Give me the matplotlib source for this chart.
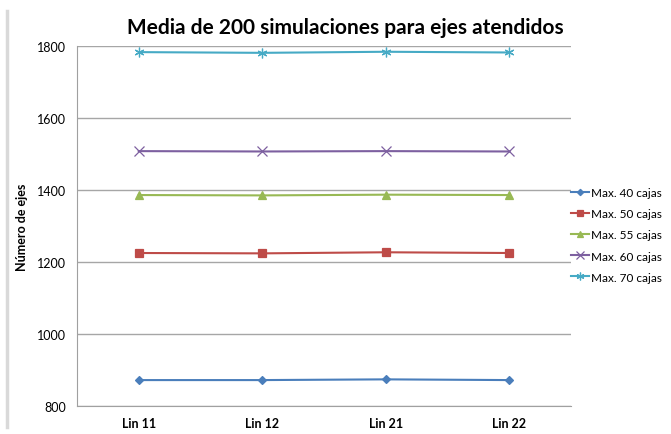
import matplotlib.pyplot as plt
from matplotlib.lines import Line2D

plt.rcParams['font.family'] = ['Lato', 'DejaVu Sans']

# data
categories = ['Lin 11', 'Lin 12', 'Lin 21', 'Lin 22']
max40 = [872, 872, 874, 872]
max50 = [1225, 1224, 1227, 1225]
max55 = [1386, 1385, 1387, 1386]
max60 = [1508, 1507, 1508, 1507]
max70 = [1783, 1781, 1784, 1782]
labels = ['Max. 40 cajas', 'Max. 50 cajas', 'Max. 55 cajas', 'Max. 60 cajas', 'Max. 70 cajas']

series = [max40, max50, max55, max60, max70]
colors = ['#4a7ebb', '#be4b48', '#98b954', '#7d60a0', '#46aac5']
markers = ['D', 's', '^', 'x', (6, 2, 0)]
msizes = [4, 5.5, 6, 7, 7]

fig = plt.figure(figsize=(6.71, 4.35), dpi=100)
ax = fig.add_axes([77 / 671, 1 - 407 / 435, (571 - 77) / 671, (407 - 47) / 435])

x = list(range(len(categories)))
for vals, c, m, ms, lab in zip(series, colors, markers, msizes, labels):
    ax.plot(x, vals, color=c, lw=1.5, marker=m, markersize=ms,
            markeredgewidth=0.9, label=lab)

ax.set_xlim(-0.5, 3.5)
ax.set_ylim(800, 1800)
ax.set_yticks([800, 1000, 1200, 1400, 1600, 1800])
ax.set_xticks(x)
ax.set_xticklabels(categories, fontweight='bold', fontsize=9)
ax.tick_params(axis='y', labelsize=9, length=0, pad=8)
ax.tick_params(axis='x', length=0, pad=8)
ax.grid(axis='y', color='#a6a6a6', lw=1)
ax.set_axisbelow(True)
for s in ['top', 'right']:
    ax.spines[s].set_visible(False)
ax.spines['left'].set_color('#a0a0a0')
ax.spines['bottom'].set_color('#a0a0a0')

ax.set_ylabel('Número de ejes', fontweight='bold', fontsize=9, labelpad=6)

fig.text(345 / 671, 1 - 28 / 435, 'Media de 200 simulaciones para ejes atendidos',
         ha='center', va='center', fontsize=15, fontweight='bold')

ax.legend(loc='center left', bbox_to_anchor=(1.0, 0.475), frameon=False,
          fontsize=8.5, handlelength=1.5, handletextpad=0.2, labelspacing=0.85,
          borderaxespad=0, borderpad=0, markerscale=0.8)

# left edge of the chart frame
fig.add_artist(Line2D([7 / 671, 7 / 671], [1 - 12 / 435, 1 - 428 / 435],
                      color='#d9d9d9', lw=2.5, transform=fig.transFigure))

fig.savefig('out.png', dpi=100)
